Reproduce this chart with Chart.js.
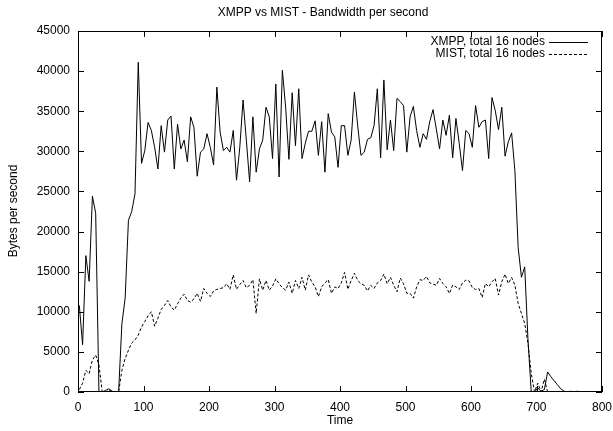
<!DOCTYPE html>
<html>
<head>
<meta charset="utf-8">
<title>XMPP vs MIST - Bandwidth per second</title>
<script src="https://cdn.jsdelivr.net/npm/chart.js@4/dist/chart.umd.min.js"></script>
<style>
  html, body { margin: 0; padding: 0; background: #fff; }
  #wrap { width: 613px; height: 431px; }
</style>
</head>
<body>
<div id="wrap"><canvas id="bwChart" width="613" height="431"></canvas></div>
<script>
// Sample times (seconds) - one sample every 5 s
const times = [
  2, 7, 12, 17, 22, 27, 32, 37, 42, 47,
  52, 57, 62, 67, 72, 77, 82, 87, 92, 97,
  102, 107, 112, 117, 122, 127, 132, 137, 142, 147,
  152, 157, 162, 167, 172, 177, 182, 187, 192, 197,
  202, 207, 212, 217, 222, 227, 232, 237, 242, 247,
  252, 257, 262, 267, 272, 277, 282, 287, 292, 297,
  302, 307, 312, 317, 322, 327, 332, 337, 342, 347,
  352, 357, 362, 367, 372, 377, 382, 387, 392, 397,
  402, 407, 412, 417, 422, 427, 432, 437, 442, 447,
  452, 457, 462, 467, 472, 477, 482, 487, 492, 497,
  502, 507, 512, 517, 522, 527, 532, 537, 542, 547,
  552, 557, 562, 567, 572, 577, 582, 587, 592, 597,
  602, 607, 612, 617, 622, 627, 632, 637, 642, 647,
  652, 657, 662, 667, 672, 677, 682, 687, 692, 697,
  702, 707, 712, 717, 722, 727, 732, 737, 742, 747,
  752, 757, 762, 767
];

// Bytes per second, XMPP, total 16 nodes
const xmppValues = [
  10800, 5900, 17000, 13800, 24400, 22300, 0, 0, 200, 400,
  100, 0, 0, 8500, 11700, 21400, 22500, 24700, 41100, 28500,
  30100, 33600, 32600, 30500, 27800, 33200, 29900, 33900, 34400, 27800,
  33400, 30300, 31400, 28700, 34300, 33000, 26900, 29900, 30300, 32200,
  30500, 28300, 38000, 32400, 30100, 30500, 29900, 32600, 26400, 30500,
  36400, 31400, 26200, 34300, 27400, 30300, 31400, 35500, 34300, 29100,
  38400, 26800, 40100, 35500, 29000, 37300, 30700, 37800, 29100, 31000,
  32500, 32500, 33800, 29500, 33700, 27400, 34700, 32400, 31800, 28000,
  33200, 33200, 29500, 31400, 37400, 33200, 29500, 29900, 31500, 31700,
  33200, 37800, 29200, 38900, 30200, 33900, 30100, 36600, 36200, 35700,
  29900, 34300, 35600, 32600, 30500, 32200, 31500, 33700, 35200, 32800,
  30300, 33900, 32000, 34500, 29200, 34100, 31000, 27600, 32600, 32200,
  30500, 35700, 33000, 33700, 33900, 29100, 36700, 35100, 32700, 35500,
  29400, 31200, 32300, 27600, 18000, 14300, 15600, 6500, 0, 0,
  500, 100, 300, 2500, 1900, 1400, 900, 400, 100, 0,
  100, 0, 100, 0
];

// Bytes per second, MIST, total 16 nodes
const mistValues = [
  300, 1100, 2700, 2300, 4000, 4600, 3400, 0, 0, 200,
  100, 0, 0, 2700, 4200, 5200, 6100, 6500, 7100, 8100,
  8800, 9500, 10000, 8200, 9200, 10300, 10800, 11400, 10600, 10200,
  11000, 11700, 12200, 11400, 11200, 11600, 12300, 11300, 12900, 12300,
  11900, 12600, 12800, 12900, 13000, 13500, 12800, 14600, 12800, 13400,
  13900, 13000, 13300, 14000, 9800, 14100, 12700, 13900, 12700, 13200,
  14100, 13500, 13000, 12700, 13700, 12300, 13900, 12900, 14300, 12700,
  14600, 13700, 13100, 11900, 13100, 13600, 14000, 12300, 13100, 12900,
  13600, 14900, 12800, 13900, 14800, 13900, 13500, 13300, 12600, 13300,
  12900, 13600, 13900, 14700, 13500, 14300, 13300, 12500, 14200, 13500,
  12300, 12300, 11700, 13100, 14000, 13900, 14400, 13600, 13450, 13300,
  14150, 13530, 13110, 12280, 13320, 13110, 12780, 13610, 13940, 13860,
  13030, 12780, 12900, 11780, 13530, 13110, 13740, 14150, 12080, 13740,
  14690, 13530, 14280, 13320, 11040, 9790, 8550, 6060, 2300, 0,
  1100, 0, 1600, 0
];

const seriesLabels = ['XMPP, total 16 nodes', 'MIST, total 16 nodes'];
const xTicks = [0, 100, 200, 300, 400, 500, 600, 700, 800];
const yTicks = [0, 5000, 10000, 15000, 20000, 25000, 30000, 35000, 40000, 45000];

const FONT = "'Liberation Sans', Arial, Helvetica, sans-serif";

const toPoints = (values) => values.map((v, i) => ({ x: times[i], y: v }));

/**
 * Gnuplot look: frame, inward mirrored ticks, labels, titles and the legend
 */
const gnuplotFrame = {
  id: 'gnuplotFrame',
  afterDraw: (chart) => {
    const ctx = chart.ctx;
    const xs = chart.scales.x;
    const ys = chart.scales.y;
    const left = Math.round(xs.getPixelForValue(0));
    const right = Math.round(xs.getPixelForValue(800));
    const top = Math.round(ys.getPixelForValue(45000));
    const bottom = Math.round(ys.getPixelForValue(0));
    const tick = 6;

    ctx.save();
    ctx.strokeStyle = '#000';
    ctx.lineWidth = 1;

    // frame
    ctx.strokeRect(left + 0.5, top + 0.5, right - left - 1, bottom - top - 1);

    ctx.beginPath();
    xTicks.forEach(v => {
      const px = Math.round(xs.getPixelForValue(v)) + 0.5;
      ctx.moveTo(px, bottom);
      ctx.lineTo(px, bottom - tick);
      ctx.moveTo(px, top);
      ctx.lineTo(px, top + tick);
    });
    yTicks.forEach(v => {
      const py = Math.round(ys.getPixelForValue(v)) + 0.5;
      ctx.moveTo(left, py);
      ctx.lineTo(left + tick, py);
      ctx.moveTo(right, py);
      ctx.lineTo(right - tick, py);
    });
    ctx.stroke();

    ctx.fillStyle = '#000';
    ctx.font = `12px ${FONT}`;

    // tick labels
    ctx.textAlign = 'center';
    ctx.textBaseline = 'middle';
    xTicks.forEach(v => ctx.fillText(String(v), xs.getPixelForValue(v), 408));
    ctx.textAlign = 'right';
    yTicks.forEach(v => ctx.fillText(String(v), 70, ys.getPixelForValue(v)));

    // titles
    ctx.textAlign = 'center';
    ctx.fillText('XMPP vs MIST - Bandwidth per second', 323, 13);
    ctx.fillText('Time', 340, 421);

    ctx.save();
    ctx.translate(14, 211);
    ctx.rotate(-Math.PI / 2);
    ctx.fillText('Bytes per second', 0, 0);
    ctx.restore();

    // legend (top right, inside the plot)
    ctx.textAlign = 'right';
    chart.data.datasets.forEach((ds, i) => {
      const y = 42 + i * 12;
      ctx.fillText(ds.label, 545, y);
      ctx.beginPath();
      ctx.setLineDash(ds.borderDash || []);
      ctx.moveTo(549, y + 0.5);
      ctx.lineTo(588, y + 0.5);
      ctx.stroke();
      ctx.setLineDash([]);
    });

    ctx.restore();
  }
};

const initializeChart = () => {
  const ctx = document.getElementById('bwChart').getContext('2d');

  return new Chart(ctx, {
    type: 'line',
    data: {
      datasets: [
        {
          label: seriesLabels[0],
          data: toPoints(xmppValues),
          borderColor: '#000',
          borderWidth: 1,
          pointRadius: 0,
          tension: 0,
          fill: false
        },
        {
          label: seriesLabels[1],
          data: toPoints(mistValues),
          borderColor: '#000',
          borderWidth: 1,
          borderDash: [3, 2],
          pointRadius: 0,
          tension: 0,
          fill: false
        }
      ]
    },
    options: {
      responsive: false,
      animation: false,
      events: [],
      layout: {
        autoPadding: false,
        padding: { left: 0, right: 11, top: 31, bottom: 0 }
      },
      plugins: {
        legend: { display: false },
        title: { display: false },
        tooltip: { enabled: false }
      },
      scales: {
        x: {
          type: 'linear',
          min: 0,
          max: 800,
          grid: { display: false },
          border: { display: false },
          ticks: { display: false },
          afterFit: (scale) => { scale.height = 39; }
        },
        y: {
          type: 'linear',
          min: 0,
          max: 45000,
          grid: { display: false },
          border: { display: false },
          ticks: { display: false },
          afterFit: (scale) => { scale.width = 78; }
        }
      }
    },
    plugins: [gnuplotFrame]
  });
};

initializeChart();
</script>
</body>
</html>
